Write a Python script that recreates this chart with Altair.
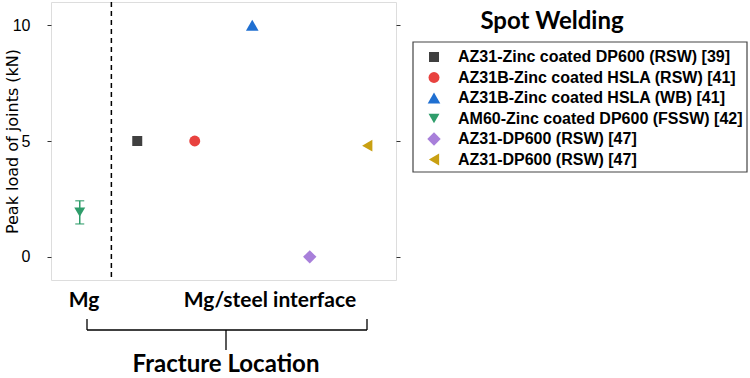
import altair as alt
import pandas as pd

series = [
    "AZ31-Zinc coated DP600 (RSW) [39]",
    "AZ31B-Zinc coated HSLA (RSW) [41]",
    "AZ31B-Zinc coated HSLA (WB) [41]",
    "AM60-Zinc coated DP600 (FSSW) [42]",
    "AZ31-DP600 (RSW) [47]",
    "AZ31-DP600 (RSW) [47] ",
]
x_pos = [1, 2, 3, 0, 4, 5]
peak = [5.0, 5.0, 10.0, 1.93, 0.0, 4.8]
shapes = ["square", "circle", "triangle-up", "triangle-down", "diamond", "triangle-left"]
colors = ["#404040", "#e8423f", "#1f6fd1", "#2f9d6b", "#a87fda", "#c9a012"]
marker_sizes = [100, 120, 160, 120, 180, 140]

err_x = [0]
err_low = [1.42]
err_high = [2.42]

divider_x = [0.55]
y_ticks = [0, 5, 10]

W, H = 345, 278
L, T = 51, 2

df = pd.DataFrame({"series": series, "x": x_pos, "peak": peak})
df["key"] = df["series"]
err = pd.DataFrame({"x": err_x, "lo": err_low, "hi": err_high})
div = pd.DataFrame({"x": divider_x})
one = pd.DataFrame({"a": [0]})

xs = alt.Scale(domain=[-0.5, 5.5])
ys = alt.Scale(domain=[-1, 11])

leg = alt.Legend(
    title=None, orient="none", legendX=375, legendY=47, padding=0,
    labelFont="Liberation Sans", labelFontWeight="bold", labelFontSize=16,
    labelColor="black", symbolSize=55, symbolOpacity=1, symbolStrokeWidth=0,
    labelOffset=16, rowPadding=4.5, labelLimit=400,
)

points = alt.Chart(df).mark_point(filled=True, opacity=1).encode(
    x=alt.X("x:Q", scale=xs, axis=None),
    y=alt.Y("peak:Q", scale=ys, axis=alt.Axis(
        values=y_ticks, grid=False, domain=False, tickSize=4, tickColor="#333",
        labelFont="Liberation Sans", labelFontSize=16, labelColor="black",
        labelPadding=17, title="Peak load of joints (kN)",
        titleFont="DejaVu Sans", titleFontSize=16, titleFontWeight="normal",
        titleColor="black", titleX=-39, titleY=139, titleAngle=-90,
        titleAlign="center", titleBaseline="middle", orient="left")),
    color=alt.Color("series:N", scale=alt.Scale(domain=series, range=colors), legend=leg),
    shape=alt.Shape("series:N", scale=alt.Scale(domain=series, range=shapes), legend=leg),
    size=alt.Size("key:N", scale=alt.Scale(type="ordinal", domain=series, range=marker_sizes), legend=None),
)

errbar = alt.Chart(err).mark_rule(color="#2f9d6b", strokeWidth=1.5).encode(
    x=alt.X("x:Q", scale=xs, axis=None),
    y=alt.Y("lo:Q", scale=ys, axis=alt.Axis(
        orient="right", values=y_ticks, labels=False, title=None, grid=False,
        domain=False, tickSize=4, tickColor="#333")),
    y2="hi:Q",
)
cap_lo = alt.Chart(err).mark_tick(orient="horizontal", color="#2f9d6b", size=9, thickness=1.5).encode(
    x=alt.X("x:Q", scale=xs, axis=None),
    y=alt.Y("lo:Q", scale=ys, axis=None),
)
cap_hi = alt.Chart(err).mark_tick(orient="horizontal", color="#2f9d6b", size=9, thickness=1.5).encode(
    x=alt.X("x:Q", scale=xs, axis=None),
    y=alt.Y("hi:Q", scale=ys, axis=None),
)

divider = alt.Chart(div).mark_rule(color="black", strokeWidth=1.5, strokeDash=[5, 4]).encode(
    x=alt.X("x:Q", scale=xs, axis=None),
)

def txt(s, x, y, size, align="center"):
    return alt.Chart(one).mark_text(
        text=s, font="Lato", fontWeight="bold", fontSize=size, color="black",
        align=align, baseline="alphabetic",
    ).encode(x=alt.value(x), y=alt.value(y))

def seg(x1, y1, x2, y2):
    return alt.Chart(one).mark_rule(color="black", strokeWidth=1.3).encode(
        x=alt.value(x1), x2=alt.value(x2), y=alt.value(y1), y2=alt.value(y2))

labels = [
    txt("Mg", 84 - L, 305, 21),
    txt("Mg/steel interface", 270 - L, 305, 21),
    txt("Fracture Location", 226 - L, 370, 24),
    txt("Spot Welding", 552 - L, 27, 24),
]
bracket = [
    seg(87 - L, 319 - T, 87 - L, 330 - T),
    seg(367 - L, 319 - T, 367 - L, 330 - T),
    seg(87 - L, 330 - T, 367 - L, 330 - T),
    seg(226 - L, 330 - T, 226 - L, 350 - T),
]
box = alt.Chart(one).mark_rect(fill="white", stroke="#444", strokeWidth=1.2).encode(
    x=alt.value(413 - L), x2=alt.value(747 - L), y=alt.value(42 - T), y2=alt.value(172 - T))

chart = alt.layer(
    box, divider, points, errbar, cap_lo, cap_hi, *labels, *bracket
).resolve_axis(y="independent").properties(
    width=W, height=H,
    autosize=alt.AutoSizeParams(type="none"),
    padding={"left": L, "top": T, "right": 750 - L - W, "bottom": 378 - T - H},
).configure_view(stroke="#333", strokeWidth=1.3).configure(background="white")

chart.save("out.html", embed_options={"renderer": "svg", "actions": False})
